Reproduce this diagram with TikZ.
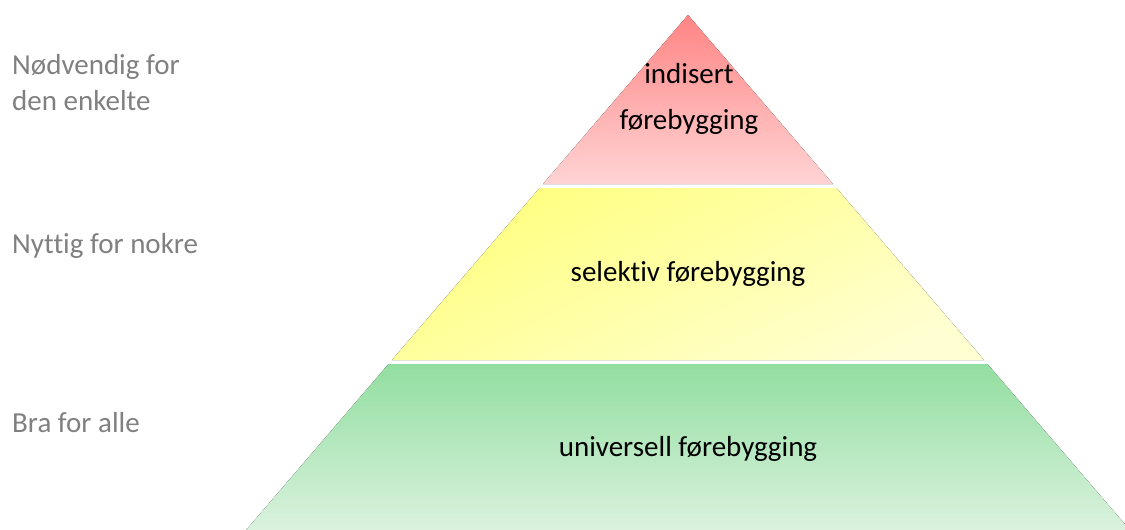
\documentclass[tikz,border=0pt]{standalone}
\usepackage{fontspec}
\setmainfont{Carlito}[Ligatures={NoCommon}]
\begin{document}
\begin{tikzpicture}[x=1pt,y=-1pt,
  side/.style={text=black!50, font=\fontsize{29}{36}\selectfont, anchor=base west, inner sep=0pt},
  lvl/.style={text=black, font=\fontsize{29}{34}\selectfont, anchor=base, inner sep=0pt}]
\useasboundingbox (0,0) rectangle (1125,530);
\def\sl{0.858}
% red tier
\fill[top color=red!48, bottom color=red!17, draw=none]
  (688,15) -- ({688-\sl*(184-15)},184) -- ({688+\sl*(184-15)},184) -- cycle;
% yellow tier
\fill[shading=axis, top color=yellow!50, bottom color=yellow!18, shading angle=25, draw=none]
  ({688-\sl*(188-15)},188) -- ({688+\sl*(188-15)},188) -- ({688+\sl*(360-15)},360) -- ({688-\sl*(360-15)},360) -- cycle;
% green tier
\fill[top color={rgb,255:red,146;green,222;blue,160}, bottom color={rgb,255:red,218;green,242;blue,222}, draw=none]
  ({688-\sl*(364-15)},364) -- ({688+\sl*(364-15)},364) -- ({688+\sl*(530-15)},530) -- ({688-\sl*(530-15)},530) -- cycle;
% tier labels
\node[lvl] (ind) at (689,83) {indisert};
\node[lvl] (ifo) at (689,129) {førebygging};
\node[lvl] (sel) at (688,281) {selektiv førebygging};
\node[lvl] (uni) at (688,456) {universell førebygging};
% side labels
\node[side] (n1) at (12,74) {Nødvendig for};
\node[side] (n2) at (12,110) {den enkelte};
\node[side] (n3) at (12,253) {Nyttig for nokre};
\node[side] (n4) at (12,432) {Bra for alle};
\end{tikzpicture}
\end{document}
